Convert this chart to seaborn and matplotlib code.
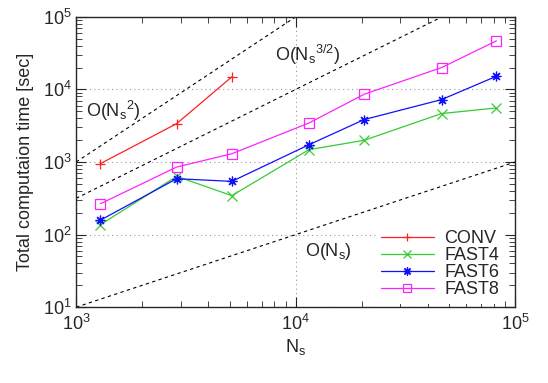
import numpy as np
import pandas as pd
import matplotlib
matplotlib.use("Agg")
import matplotlib.pyplot as plt
import seaborn as sns

# values (log-log)
ns_conv = [1290, 2870, 5120]
t_conv = [950, 3380, 14900]

ns_fast = [1290, 2870, 5120, 11500, 20500, 46200, 82200]
t_fast4 = [137, 634, 344, 1480, 1990, 4650, 5560]
t_fast6 = [158, 589, 541, 1730, 3840, 7240, 15200]
t_fast8 = [266, 853, 1300, 3450, 8570, 20000, 46700]

# reference slopes: exponent, coefficient
ref_exp = [2.0, 1.5, 1.0]
ref_coef = [1e-3, 1e-2, 1e-2]
ref_labels = ["O(N$_s$$^2$)", "O(N$_s$$^{3/2}$)", "O(N$_s$)"]

sns.set_style("ticks")
plt.rcParams["font.family"] = ["Liberation Sans", "DejaVu Sans"]
plt.rcParams["mathtext.fontset"] = "custom"
plt.rcParams["mathtext.rm"] = "Liberation Sans"
plt.rcParams["mathtext.it"] = "Liberation Sans"

df = pd.concat([
    pd.DataFrame({"Ns": ns_conv, "t": t_conv, "method": "CONV"}),
    pd.DataFrame({"Ns": ns_fast, "t": t_fast4, "method": "FAST4"}),
    pd.DataFrame({"Ns": ns_fast, "t": t_fast6, "method": "FAST6"}),
    pd.DataFrame({"Ns": ns_fast, "t": t_fast8, "method": "FAST8"}),
])

fig, ax = plt.subplots(figsize=(5.48, 3.83), dpi=100)
fig.subplots_adjust(left=0.139, right=0.940, top=0.956, bottom=0.198)

ax.set_xscale("log")
ax.set_yscale("log")
ax.set_xlim(1e3, 1e5)
ax.set_ylim(10, 1e5)

# dashed guide lines
xs = np.array([1e3, 1e5])
for p, c in zip(ref_exp, ref_coef):
    ax.plot(xs, c * xs ** p, ls=(0, (3, 3)), color="black", lw=0.8, zorder=1)

colors = {"CONV": "#ff2020", "FAST4": "#33cc33", "FAST6": "#1010ff", "FAST8": "#ff22ff"}
markers = {"CONV": "+", "FAST4": "x", "FAST6": (8, 2, 0), "FAST8": "s"}

for name, sub in df.groupby("method", sort=False):
    sns.lineplot(data=sub, x="Ns", y="t", ax=ax, color=colors[name], lw=0.9,
                 marker=markers[name], markersize=7,
                 markerfacecolor="none" if name == "FAST8" else colors[name],
                 markeredgecolor=colors[name], markeredgewidth=0.9,
                 label=name, zorder=3)

ax.text(1110, 4220, ref_labels[0], fontsize=13, va="baseline")
ax.text(8050, 24400, ref_labels[1], fontsize=13, va="baseline")
ax.text(11000, 50, ref_labels[2], fontsize=13, va="baseline")

ax.grid(True, which="major", ls=(0, (1, 3)), color="#999999", lw=0.8)
ax.tick_params(which="both", direction="in", top=True, right=True, labelsize=13)
ax.tick_params(which="major", length=7, width=0.8)
ax.tick_params(which="minor", length=4, width=0.6)
ax.tick_params(axis="x", which="major", pad=5)
for s in ax.spines.values():
    s.set_linewidth(1.0)

ax.set_xlabel("N$_s$", fontsize=13, labelpad=2)
ax.set_ylabel("Total computaion time [sec]", fontsize=13, labelpad=6)

leg = ax.legend(loc="lower right", bbox_to_anchor=(0.985, 0.0), frameon=True,
                fontsize=13, handlelength=2.9, handletextpad=0.6,
                labelspacing=0.0, borderpad=0.3, borderaxespad=0.2)
leg.get_frame().set_edgecolor("none")
leg.get_frame().set_facecolor("white")
leg.get_frame().set_alpha(1.0)
for h in leg.legend_handles:
    h.set_markersize(6)
    h.set_linewidth(0.9)

fig.savefig("out.png", dpi=100)
